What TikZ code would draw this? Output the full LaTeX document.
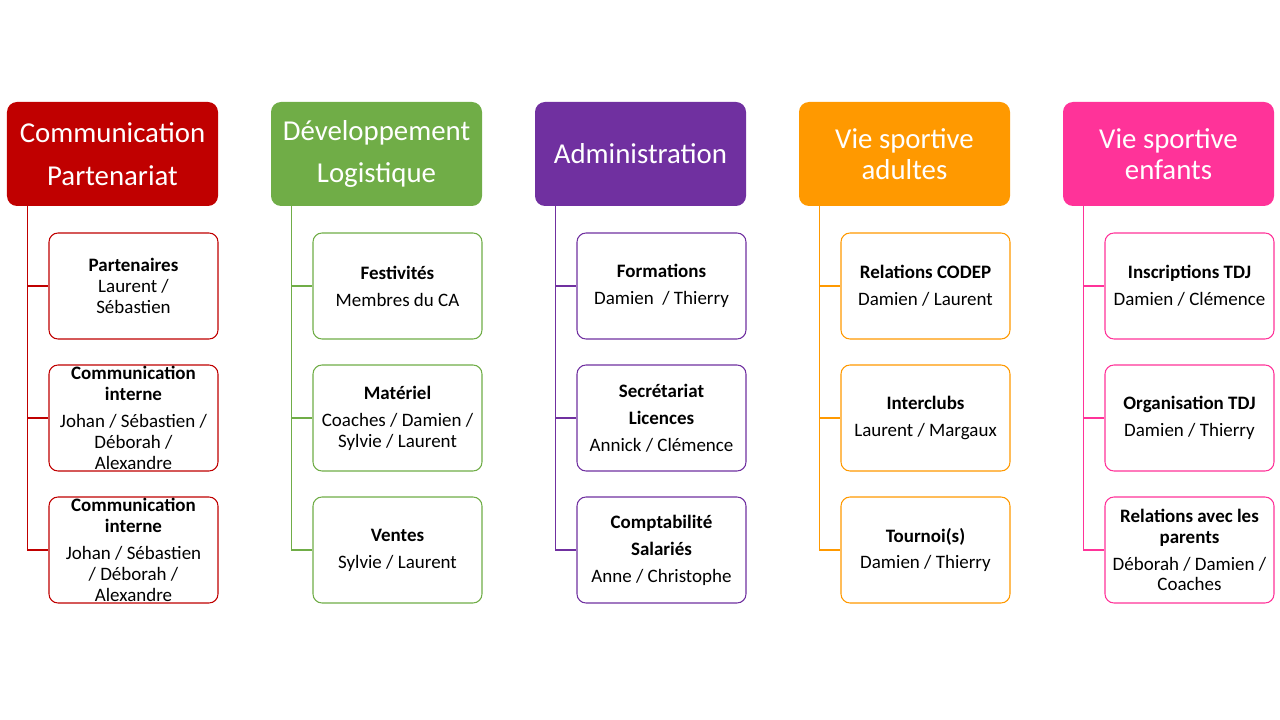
\documentclass[tikz,border=0pt]{standalone}
\usepackage{fontspec}
\setmainfont{Carlito}
\usepackage{tikz}
\usetikzlibrary{positioning}
\definecolor{comred}{HTML}{C00000}
\definecolor{devgreen}{HTML}{70AD47}
\definecolor{admpurple}{HTML}{7030A0}
\definecolor{adorange}{HTML}{FF9900}
\definecolor{kidpink}{HTML}{FF3399}
\begin{document}
\begin{tikzpicture}[x=0.2mm,y=-0.2mm]
                    \tikzstyle{every node}+=[inner sep=0pt]
                    \tikzstyle{head}=[rounded corners=2mm, minimum width=42.2mm, minimum height=20.8mm, text=white, align=center]
                    \tikzstyle{task}=[draw, line width=0.6pt, rounded corners=1.8mm, fill=white, minimum width=33.8mm, minimum height=21.2mm, align=center, font=\fontsize{10.8}{11.9}\selectfont]
                    \tikzstyle{link}=[line width=0.7pt]
                    \useasboundingbox (0,0) rectangle (1280,720);
                    % headers
                    \node [head, fill=comred, font=\fontsize{16.4}{24.4}\selectfont] (com) at (112.5,154) {Communication\\Partenariat};
                    \node [head, fill=devgreen, font=\fontsize{16.4}{24.4}\selectfont] (dev) at (376.5,154) {Développement\\Logistique};
                    \node [head, fill=admpurple, font=\fontsize{16.4}{18}\selectfont] (adm) at (640.5,154) {Administration};
                    \node [head, fill=adorange, font=\fontsize{16.4}{18}\selectfont] (vsa) at (904.5,154) {Vie sportive\\adultes};
                    \node [head, fill=kidpink, font=\fontsize{16.4}{18}\selectfont] (vse) at (1168.5,154) {Vie sportive\\enfants};
                    % communication
                    \node [task, draw=comred] (com1) at (133.5,286) {\textbf{Partenaires}\\Laurent /\\Sébastien};
                    \node [task, draw=comred] (com2) at (133.5,418) {\textbf{Communication}\\\textbf{interne}\\[3.4pt]Johan / Sébastien /\\Déborah /\\Alexandre};
                    \node [task, draw=comred] (com3) at (133.5,550) {\textbf{Communication}\\\textbf{interne}\\[3.4pt]Johan / Sébastien\\/ Déborah /\\Alexandre};
                    % developpement
                    \node [task, draw=devgreen] (dev1) at (397.5,286) {\textbf{Festivités}\\[3.4pt]Membres du CA};
                    \node [task, draw=devgreen] (dev2) at (397.5,418) {\textbf{Matériel}\\[3.4pt]Coaches / Damien /\\Sylvie / Laurent};
                    \node [task, draw=devgreen] (dev3) at (397.5,550) {\textbf{Ventes}\\[3.4pt]Sylvie / Laurent};
                    % administration
                    \node [task, draw=admpurple] (adm1) at (661.5,286) {\textbf{Formations}\\[3.4pt]Damien \ / Thierry};
                    \node [task, draw=admpurple] (adm2) at (661.5,418) {\textbf{Secrétariat}\\[3.4pt]\textbf{Licences}\\[3.4pt]Annick / Clémence};
                    \node [task, draw=admpurple] (adm3) at (661.5,550) {\textbf{Comptabilité}\\[3.4pt]\textbf{Salariés}\\[3.4pt]Anne / Christophe};
                    % vie sportive adultes
                    \node [task, draw=adorange] (vsa1) at (925.5,286) {\textbf{Relations CODEP}\\[3.4pt]Damien / Laurent};
                    \node [task, draw=adorange] (vsa2) at (925.5,418) {\textbf{Interclubs}\\[3.4pt]Laurent / Margaux};
                    \node [task, draw=adorange] (vsa3) at (925.5,550) {\textbf{Tournoi(s)}\\[3.4pt]Damien / Thierry};
                    % vie sportive enfants
                    \node [task, draw=kidpink] (vse1) at (1189.5,286) {\textbf{Inscriptions TDJ}\\[3.4pt]Damien / Clémence};
                    \node [task, draw=kidpink] (vse2) at (1189.5,418) {\textbf{Organisation TDJ}\\[3.4pt]Damien / Thierry};
                    \node [task, draw=kidpink] (vse3) at (1189.5,550) {\textbf{Relations avec les}\\\textbf{parents}\\[3.4pt]Déborah / Damien /\\Coaches};
                    % links
                    \foreach \h/\c in {com/comred, dev/devgreen, adm/admpurple, vsa/adorange, vse/kidpink}
                    {
                        \draw [link, \c] ([xshift=4.2mm]\h.south west) |- (\h1.west);
                        \draw [link, \c] ([xshift=4.2mm]\h.south west) |- (\h2.west);
                        \draw [link, \c] ([xshift=4.2mm]\h.south west) |- (\h3.west);
                    }
                \end{tikzpicture}
\end{document}
